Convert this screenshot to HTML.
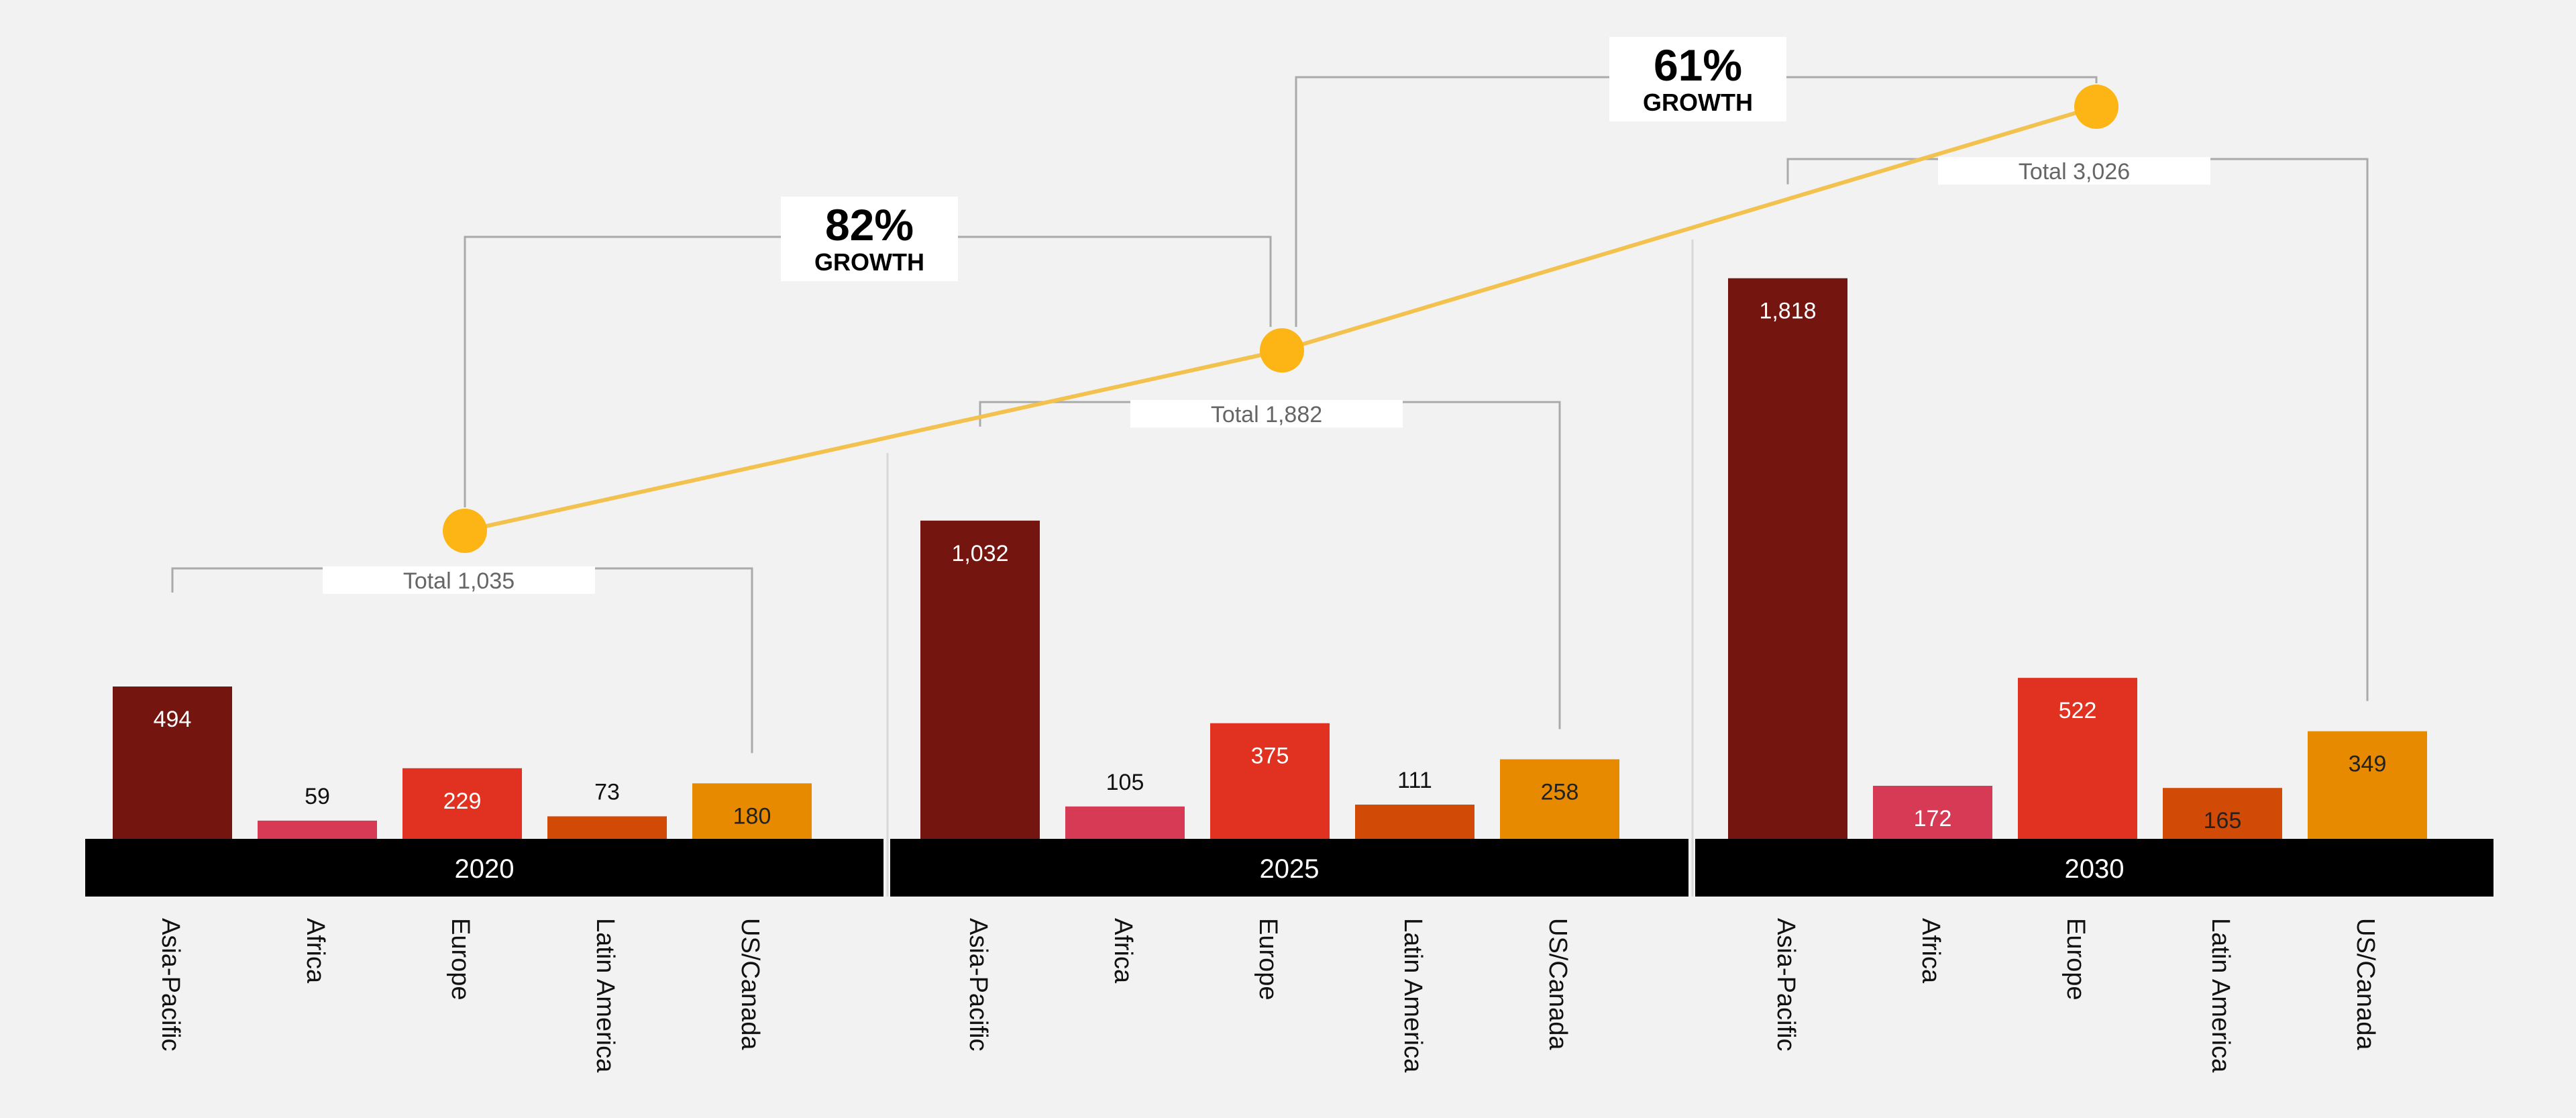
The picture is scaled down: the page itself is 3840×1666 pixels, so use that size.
<!DOCTYPE html>
<html><head><meta charset="utf-8"><style>
html,body{margin:0;padding:0;background:#f2f2f2;}
svg{display:block;font-family:"Liberation Sans",Arial,sans-serif;}
</style></head><body>
<svg id="chart" width="3840" height="1666" viewBox="0 0 3840 1666" xmlns="http://www.w3.org/2000/svg">
<rect x="0" y="0" width="3840" height="1666" fill="#f2f2f2"/>
<g id="brackets"></g>
<g id="bars"></g>
<g id="line"></g>
</svg>
<script>
const years = ["2020", "2025", "2030"];
const regions = ["Asia-Pacific", "Africa", "Europe", "Latin America", "US/Canada"];
const values2020 = [494, 59, 229, 73, 180];
const values2025 = [1032, 105, 375, 111, 258];
const values2030 = [1818, 172, 522, 165, 349];
const totals = [1035, 1882, 3026];
const totalLabels = ["Total 1,035", "Total 1,882", "Total 3,026"];
const growthLabels = ["82%", "61%"];

const series = [values2020, values2025, values2030];
const colors = ["#74160f", "#d63a55", "#e03121", "#d14a06", "#e88a00"];
const textColors = ["#fff", "#fff", "#fff", "#222", "#222"];
const bracketOffset = [56, 77, 78];
const NS = "http://www.w3.org/2000/svg";
const baseY = 1250;
const unitPx = 0.4595;
const groupX0 = 168, groupStep = 1204, barStep = 216, barW = 178;
function xBar(g, i) { return groupX0 + g * groupStep + i * barStep; }
function xCenter(g, i) { return xBar(g, i) + barW / 2; }
function yVal(v) { return baseY - v * unitPx; }
function yTotal(t) { return 1119.5 - t * 0.3174; }
function fmt(v) { return v.toLocaleString("en-US"); }
function mk(tag, attrs, parent) {
  const el = document.createElementNS(NS, tag);
  for (const k in attrs) el.setAttribute(k, attrs[k]);
  parent.appendChild(el);
  return el;
}
const bars = document.getElementById("bars");
const brk = document.getElementById("brackets");
const lineG = document.getElementById("line");

years.forEach((yr, g) => {
  const bandX = 127 + g * 1200;
  const band = mk("rect", {x: bandX, y: baseY, width: 1190, height: 86, fill: "#000"}, bars);
  
  
  const yt = mk("text", {x: bandX + 595, y: baseY + 58, "text-anchor": "middle", fill: "#fff", "font-size": 40}, bars);
  yt.textContent = yr;
  
  
  if (g > 0) {
    const sep = mk("line", {x1: bandX - 4, x2: bandX - 4, y1: g === 1 ? 675 : 357, y2: baseY + 86, stroke: "#d8d8d8", "stroke-width": 3}, brk);
    
    
  }
  regions.forEach((r, i) => {
    const v = series[g][i];
    const top = yVal(v);
    const b = mk("rect", {x: xBar(g, i), y: top, width: barW, height: baseY - top, fill: colors[i]}, bars);
    
    
    const inside = v > 150;
    const t = mk("text", {x: xCenter(g, i), y: inside ? top + 60 : top - 25, "text-anchor": "middle", fill: inside ? textColors[i] : "#111", "font-size": 34}, bars);
    t.textContent = fmt(v);
    
    
    const c = mk("text", {x: 0, y: 0, "font-size": 38, fill: "#111", transform: "translate(" + (xCenter(g, i) - 15) + ",1368) rotate(90)"}, bars);
    c.textContent = r;
    
    
  });
  const ty = yTotal(totals[g]) + bracketOffset[g];
  const xl = xCenter(g, 0), xr = xCenter(g, 4);
  const legL = yVal(series[g][0]) - 140;
  const legR = yVal(series[g][4]) - 45;
  const p = mk("path", {d: "M" + xl + "," + legL + " V" + ty + " H" + xr + " V" + legR, fill: "none", stroke: "#aaa", "stroke-width": 3}, brk);
  
  
  const cx = (xl + xr) / 2 - 5;
  const bx = mk("rect", {x: cx - 203, y: ty - 3, width: 406, height: 41, fill: "#fff"}, brk);
  
  
  const tt = mk("text", {x: cx, y: ty + 30, "text-anchor": "middle", fill: "#666", "font-size": 34}, brk);
  tt.textContent = totalLabels[g];
  
  
});

const dotX = [693, 1911, 3125];
const growthY = [353, 115];
growthLabels.forEach((lab, k) => {
  const x1 = dotX[k] + (k === 1 ? 21 : 0), x2 = dotX[k + 1] - (k === 0 ? 17 : 0);
  const y = growthY[k];
  const y1 = yTotal(totals[k]) - 35, y2 = yTotal(totals[k + 1]) - 35;
  const p = mk("path", {d: "M" + x1 + "," + y1 + " V" + y + " H" + x2 + " V" + y2, fill: "none", stroke: "#aaa", "stroke-width": 3}, brk);
  
  
  const cx = k === 0 ? 1296 : 2531;
  const bx = mk("rect", {x: cx - 132, y: y - 60, width: 264, height: 126, fill: "#fff"}, brk);
  
  
  const t1 = mk("text", {x: cx, y: y + 5, "text-anchor": "middle", fill: "#000", "font-size": 66, "font-weight": "bold"}, brk);
  t1.textContent = lab;
  
  
  const t2 = mk("text", {x: cx, y: y + 50, "text-anchor": "middle", fill: "#000", "font-size": 36, "font-weight": "bold"}, brk);
  t2.textContent = "GROWTH";
  
  
});

const pts = totals.map((t, g) => [dotX[g], yTotal(t)]);
const pl = mk("polyline", {points: pts.map(p => p.join(",")).join(" "), fill: "none", stroke: "#f2c14e", "stroke-width": 6}, lineG);


pts.forEach((p, g) => {
  const c = mk("circle", {cx: p[0], cy: p[1], r: 33, fill: "#fdb515"}, lineG);
  
  
});
</script>
</body></html>
